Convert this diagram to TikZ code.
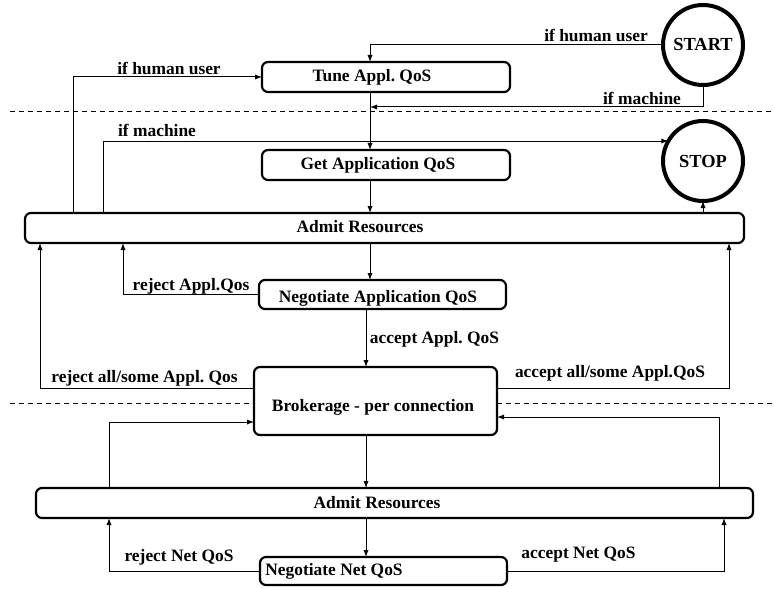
\documentclass[tikz,border=0pt]{standalone}
\usepackage{fontspec}
\setmainfont{Liberation Serif}
\usetikzlibrary{arrows.meta}
\frenchspacing
\begin{document}
\begin{tikzpicture}[x=0.5pt,y=-0.5pt,
  box/.style={draw,line width=1.1pt,rounded corners=3pt,inner sep=0pt,outer sep=0pt},
  ring/.style={draw,circle,line width=2pt,minimum size=40pt,inner sep=0pt,outer sep=0pt,
    font=\fontsize{9.2}{11}\selectfont\bfseries},
  txt/.style={font=\fontsize{8.7}{10}\selectfont\bfseries,inner sep=0pt},
  flow/.style={line width=0.5pt,-{Latex[length=3.5pt,width=2.6pt]}},
  sep/.style={line width=0.5pt,dash pattern=on 2.5pt off 2pt}]
\useasboundingbox (0,0) rectangle (774,588);

% lanes used by the connectors
\coordinate (mainx) at (370,0);
\coordinate (mainy) at (366,0);
\coordinate (lx1) at (73,0);
\coordinate (lx2) at (103,0);
\coordinate (lx3) at (123,0);
\coordinate (lx4) at (40,0);
\coordinate (lx5) at (109,0);
\coordinate (rx1) at (729,0);
\coordinate (rx2) at (719,0);
\coordinate (rx3) at (724,0);
\coordinate (brkline) at (0,388);
\coordinate (lo1) at (0,422);
\coordinate (lo2) at (0,417);
\coordinate (dash2) at (0,403);

% boxes
\node[box,minimum width=124pt,minimum height=15pt] (tune) at (386,77) {};
\node[box,minimum width=124pt,minimum height=15pt] (getq) at (386,165) {};
\node[box,minimum width=359.5pt,minimum height=15pt] (adm1) at (384.5,228) {};
\node[box,minimum width=123.5pt,minimum height=14.5pt] (nega) at (382.5,294.5) {};
\node[box,minimum width=121.5pt,minimum height=34pt] (brk) at (375.5,401) {};
\node[box,minimum width=358.5pt,minimum height=15pt] (adm2) at (394.5,503) {};
\node[box,minimum width=123.5pt,minimum height=14pt] (negn) at (383.5,571) {};

% box texts
\node[txt] (tuneT) at (372,77) {Tune Appl. QoS};
\node[txt] (getqT) at (378,165) {Get Application QoS};
\node[txt] (adm1T) at (360,227) {Admit Resources};
\node[txt] (negaT) at (378,298) {Negotiate Application QoS};
\node[txt] (brkT) at (373,407) {Brokerage - per connection};
\node[txt] (adm2T) at (377,503) {Admit Resources};
\node[txt] (negnT) at (334,571) {Negotiate Net QoS};

% start / stop
\node[ring] (start) at (703,45) {START};
\node[ring] (stop) at (703,161) {STOP};

% separators
\draw[sep] (10,112) -- (774,112);
\draw[sep] (10,403) -- (brk.west |- dash2);
\draw[sep] (brk.east |- dash2) -- (774,403);

% top section
\draw[flow] (start.west) -| (tune.north -| mainx);
\coordinate (mjoin) at (370,107);
\draw[flow] (start.south) |- (mjoin);
\draw[flow] (tune.south -| mainx) -- (getq.north -| mainx);
\draw[flow] (adm1.north -| lx1) |- (tune.west);
\draw[flow] (adm1.north -| lx2) |- (stop.150);
\draw[flow] (getq.south -| mainx) -- (adm1.north -| mainx);
\draw[flow] (adm1.north -| stop.south) -- (stop.south);

% application negotiation
\draw[flow] (adm1.south -| mainx) -- (nega.north -| mainx);
\draw[flow] (nega.west) -| (adm1.south -| lx3);
\draw[flow] (nega.south -| mainy) -- (brk.north -| mainy);
\draw[flow] (brk.west |- brkline) -| (adm1.south -| lx4);
\draw[flow] (brk.east |- brkline) -| (adm1.south -| rx1);

% network negotiation
\draw[flow] (brk.south -| mainy) -- (adm2.north -| mainy);
\draw[flow] (adm2.north -| lx5) |- (brk.west |- lo1);
\draw[flow] (adm2.north -| rx2) |- (brk.east |- lo2);
\draw[flow] (adm2.south -| mainy) -- (negn.north -| mainy);
\draw[flow] (negn.west) -| (adm2.south -| lx5);
\draw[flow] (negn.east) -| (adm2.south -| rx3);

% connector labels
\node[txt] (l1) at (596,35) {if human user};
\node[txt] (l2) at (642,98) {if machine};
\node[txt] (l3) at (169,68) {if human user};
\node[txt] (l4) at (157,130) {if machine};
\node[txt] (l5) at (191,286) {reject Appl.Qos};
\node[txt] (l6) at (434.5,339) {accept Appl. QoS};
\node[txt] (l7) at (144.5,378) {reject all/some Appl. Qos};
\node[txt] (l8) at (610,373) {accept all/some Appl.QoS};
\node[txt] (l9) at (179,557) {reject Net QoS};
\node[txt] (l10) at (578.5,555) {accept Net QoS};
\end{tikzpicture}
\end{document}
